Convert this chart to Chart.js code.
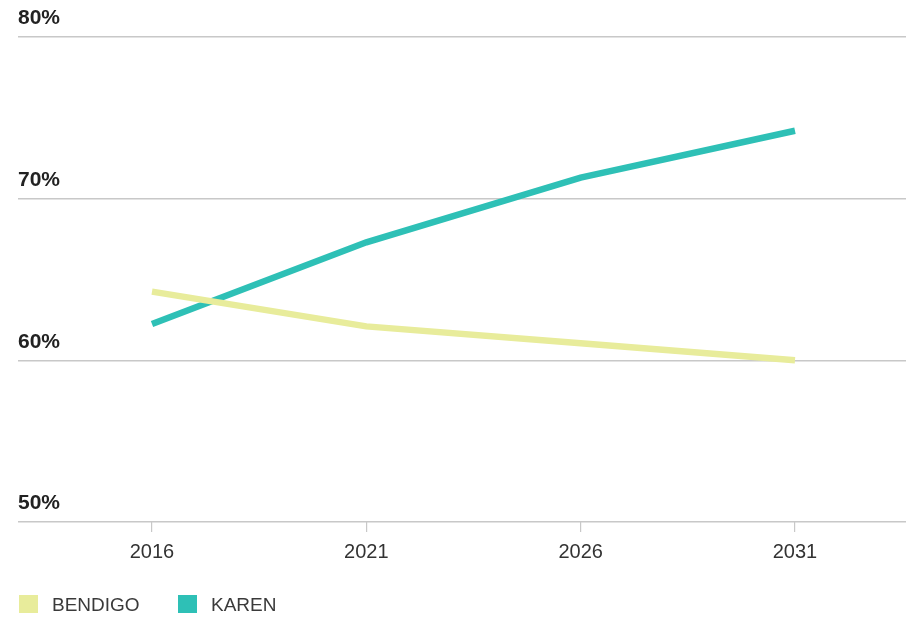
<!DOCTYPE html>
<html>
<head>
<meta charset="utf-8">
<script src="https://cdn.jsdelivr.net/npm/chart.js@4/dist/chart.umd.min.js"></script>
<style>
  html, body { margin: 0; padding: 0; background: #fff; }
  #wrap { position: relative; width: 912px; height: 621px; }
  #chartBox { position: absolute; left: 0; top: 0; width: 912px; height: 621px; }
  #legend { position: absolute; left: 0; top: 593px; width: 912px; height: 24px;
            font-family: "Liberation Sans", Arial, sans-serif; font-size: 19px; color: #3a3a3a; }
  .item { position: absolute; top: 0; height: 22px; line-height: 22px; white-space: nowrap; }
  .sw { position: absolute; top: 2px; left: 0; width: 19px; height: 18px; }
  .tx { position: absolute; left: 33px; top: 1px; }
</style>
</head>
<body>
<div id="wrap">
  <div id="chartBox"><canvas id="c"></canvas></div>
  <div id="legend"></div>
</div>
<script>
const years = [2016, 2021, 2026, 2031];
const bendigo = [64.25, 62.1, 61.05, 60.0];
const karen = [62.25, 67.3, 71.3, 74.2];
const yTicks = [50, 60, 70, 80];
const seriesNames = ["BENDIGO", "KAREN"];
const seriesColors = ["#E8EC9B", "#2EC0B6"];

const toPoints = (vals) => years.map((y, i) => ({ x: y, y: vals[i] }));

const chart = new Chart(document.getElementById('c'), {
  type: 'line',
  data: {
    datasets: [
      { label: seriesNames[0], data: toPoints(bendigo), borderColor: seriesColors[0], backgroundColor: seriesColors[0],
        borderWidth: 6.5, pointRadius: 0, tension: 0, borderCapStyle: 'butt', fill: false },
      { label: seriesNames[1], data: toPoints(karen), borderColor: seriesColors[1], backgroundColor: seriesColors[1],
        borderWidth: 6.5, pointRadius: 0, tension: 0, borderCapStyle: 'butt', fill: false }
    ]
  },
  options: {
    responsive: true,
    maintainAspectRatio: false,
    animation: false,
    layout: { padding: { top: 37, left: 18, right: 6, bottom: 49 } },
    plugins: { legend: { display: false }, tooltip: { enabled: false } },
    scales: {
      x: {
        type: 'linear',
        min: 2012.874,
        max: 2033.59,
        afterBuildTicks: (axis) => { axis.ticks = years.map(v => ({ value: v })); },
        border: { display: false },
        grid: { display: true, drawOnChartArea: false, drawTicks: true, tickLength: 10, color: '#c8c8c8', lineWidth: 1.2 },
        ticks: {
          padding: 8,
          color: '#333',
          font: { family: '"Liberation Sans", Arial, sans-serif', size: 20 },
          callback: (v) => String(v),
          maxRotation: 0
        }
      },
      y: {
        min: yTicks[0],
        max: yTicks[yTicks.length - 1],
        afterBuildTicks: (axis) => { axis.ticks = yTicks.map(v => ({ value: v })); },
        border: { display: false },
        grid: { color: '#c8c8c8', lineWidth: 1.5, drawTicks: false },
        ticks: {
          mirror: true,
          padding: 0,
          labelOffset: -18.5,
          color: '#222',
          font: { family: '"Liberation Sans", Arial, sans-serif', size: 21, weight: 'bold' },
          callback: (v) => v + '%'
        }
      }
    }
  }
});

// HTML legend built from the chart's datasets
const legendEl = document.getElementById('legend');
const legendX = [19, 178];
chart.data.datasets.forEach((ds, i) => {
  const item = document.createElement('div');
  item.className = 'item';
  item.style.left = legendX[i] + 'px';
  item.innerHTML = '<span class="sw" style="background:' + ds.borderColor + '"></span><span class="tx">' + ds.label + '</span>';
  legendEl.appendChild(item);
});
</script>
</body>
</html>
